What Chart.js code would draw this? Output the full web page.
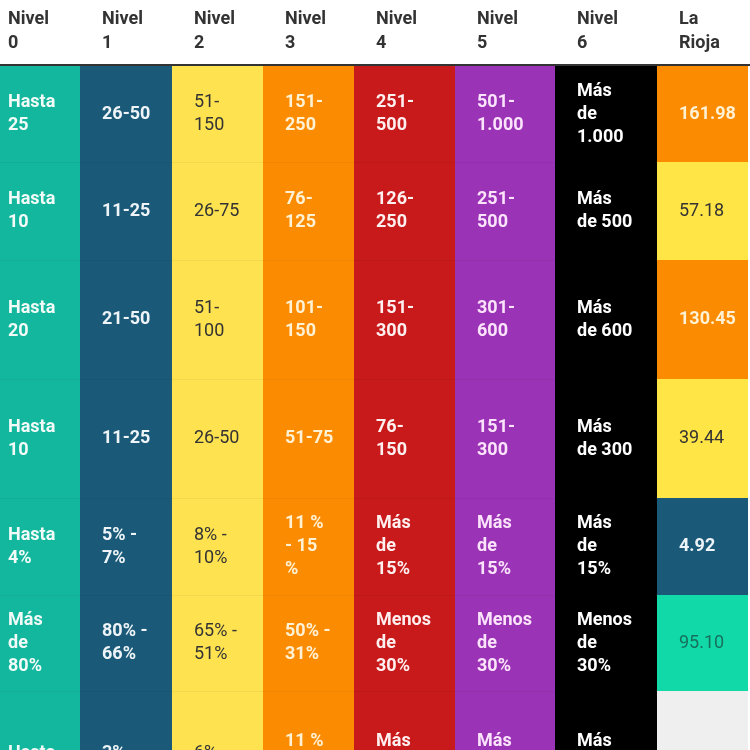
<!DOCTYPE html>
<html>
<head>
<meta charset="utf-8">
<script src="https://cdn.jsdelivr.net/npm/chart.js@4/dist/chart.umd.min.js"></script>
<style>
  html, body { margin: 0; padding: 0; background: #fff; }
  #wrap { width: 750px; height: 750px; position: relative; }
</style>
</head>
<body>
<div id="wrap"><canvas id="tabla"></canvas></div>
<script>
// Cabeceras de columna
const headerLabels = [
  ['Nivel', '0'], ['Nivel', '1'], ['Nivel', '2'], ['Nivel', '3'],
  ['Nivel', '4'], ['Nivel', '5'], ['Nivel', '6'], ['La', 'Rioja']
];

// Umbrales de cada nivel, una fila por indicador
const nivel0 = ['Hasta\n25', 'Hasta\n10', 'Hasta\n20', 'Hasta\n10', 'Hasta\n4%', 'Más\nde\n80%', 'Hasta\n2%'];
const nivel1 = ['26-50', '11-25', '21-50', '11-25', '5% -\n7%', '80% -\n66%', '3% -\n5%'];
const nivel2 = ['51-\n150', '26-75', '51-\n100', '26-50', '8% -\n10%', '65% -\n51%', '6% -\n10%'];
const nivel3 = ['151-\n250', '76-\n125', '101-\n150', '51-75', '11 %\n- 15\n%', '50% -\n31%', '11 %\n- 15\n%'];
const nivel4 = ['251-\n500', '126-\n250', '151-\n300', '76-\n150', 'Más\nde\n15%', 'Menos\nde\n30%', 'Más\nde\n15%'];
const nivel5 = ['501-\n1.000', '251-\n500', '301-\n600', '151-\n300', 'Más\nde\n15%', 'Menos\nde\n30%', 'Más\nde\n15%'];
const nivel6 = ['Más\nde\n1.000', 'Más\nde 500', 'Más\nde 600', 'Más\nde 300', 'Más\nde\n15%', 'Menos\nde\n30%', 'Más\nde\n15%'];

// Valores de La Rioja
const laRioja = [161.98, 57.18, 130.45, 39.44, 4.92, 95.10, null];

// Estilos (colores por nivel y por celda de La Rioja)
const levelColors = ['#13b79d', '#1a5a78', '#fee250', '#fb8b00', '#c8191b', '#9b33b6', '#000000'];
const levelLineColors = ['#12ad94', '#185571', '#f3d84c', '#f08500', '#bf1819', '#9331ad', '#000000'];
const levelTextColors = ['#f2fbf8', '#eef4f7', '#333333', '#fff1d4', '#fff0f0', '#fbe4fb', '#ffffff'];
const levelBold = [true, true, false, true, true, true, true];
const riojaColors = ['#fb8b00', '#ffe545', '#fb8b00', '#ffe545', '#1a5a78', '#12d9a8', '#efefef'];
const riojaTextColors = ['#fff1d4', '#333333', '#fff1d4', '#333333', '#eef4f7', '#16705e', '#333333'];
const riojaBold = [true, false, true, false, true, false, false];

// Geometría de la tabla (px de la página)
const colEdges = [0, 80, 172, 263, 354, 455, 555, 657, 748];
const rowEdges = [66, 162, 260, 379, 498, 595, 691, 838];
const headerHeight = 65;
const lineGap = 23;

const levels = [nivel0, nivel1, nivel2, nivel3, nivel4, nivel5, nivel6];
const rowCount = laRioja.length;

function cellText(r, c) {
  if (c < levels.length) return levels[c][r];
  return laRioja[r] == null ? '' : laRioja[r].toFixed(2);
}

const datasets = [];
for (let r = 0; r < rowCount; r++) {
  const top = rowEdges[r], bottom = rowEdges[r + 1];
  const data = [];
  for (let c = 0; c < headerLabels.length; c++) {
    data.push({ x: [colEdges[c], colEdges[c + 1]], y: (top + bottom) / 2 });
  }
  datasets.push({
    label: 'fila ' + r,
    data,
    stack: 'celdas',
    barThickness: bottom - top,
    backgroundColor: headerLabels.map((_, c) => c < levels.length ? levelColors[c] : riojaColors[r]),
    borderColor: headerLabels.map((_, c) => c < levels.length ? levelLineColors[c] : riojaColors[r]),
    borderWidth: r === 0 ? 0 : { top: 1, bottom: 0, left: 0, right: 0 },
    borderSkipped: false,
    inflateAmount: 0
  });
}

// Texto de cada celda, alineado a la izquierda y centrado en vertical
const cellLabels = {
  id: 'cellLabels',
  afterDatasetsDraw(chart) {
    const ctx = chart.ctx;
    ctx.save();
    ctx.textAlign = 'left';
    ctx.textBaseline = 'middle';
    chart.data.datasets.forEach((ds, r) => {
      chart.getDatasetMeta(r).data.forEach((el, c) => {
        const { x, base, y } = el.getProps(['x', 'base', 'y'], true);
        const left = Math.min(x, base);
        const txt = cellText(r, c);
        if (!txt) return;
        const isRioja = c >= levels.length;
        const bold = isRioja ? riojaBold[r] : levelBold[c];
        ctx.font = (bold ? 'bold ' : '') + '18px Roboto';
        ctx.fillStyle = isRioja ? riojaTextColors[r] : levelTextColors[c];
        const lines = txt.split('\n');
        const y0 = y - (lines.length - 1) * lineGap / 2;
        lines.forEach((ln, i) => ctx.fillText(ln, left + (c === 0 ? 8 : 22), y0 + i * lineGap));
      });
    });
    ctx.restore();
  }
};

const headerTicks = colEdges.slice(0, -1).map((e, c) => e + (c === 0 ? 8 : 22));

new Chart(document.getElementById('tabla'), {
  type: 'bar',
  data: { datasets },
  plugins: [cellLabels],
  options: {
    indexAxis: 'y',
    responsive: true,
    maintainAspectRatio: false,
    animation: false,
    layout: { padding: 0 },
    plugins: { legend: { display: false }, tooltip: { enabled: false } },
    scales: {
      x: {
        type: 'linear',
        position: 'top',
        min: 0,
        max: 750,
        stacked: false,
        offset: false,
        grid: { display: false, drawTicks: false },
        border: { display: true, color: '#333333', width: 2 },
        afterBuildTicks: scale => { scale.ticks = headerTicks.map(v => ({ value: v })); },
        afterFit: scale => { scale.height = headerHeight; scale.paddingLeft = 0; scale.paddingRight = 0; },
        ticks: {
          align: 'start',
          autoSkip: false,
          maxRotation: 0,
          minRotation: 0,
          padding: 9,
          color: '#333333',
          font: { family: 'Roboto', size: 18, weight: 'bold', lineHeight: 1.36 },
          callback: (v, i) => headerLabels[i]
        }
      },
      y: {
        type: 'linear',
        display: false,
        reverse: true,
        stacked: true,
        offset: false,
        grid: { offset: false },
        min: headerHeight,
        max: 750
      }
    }
  }
});
</script>
</body>
</html>
